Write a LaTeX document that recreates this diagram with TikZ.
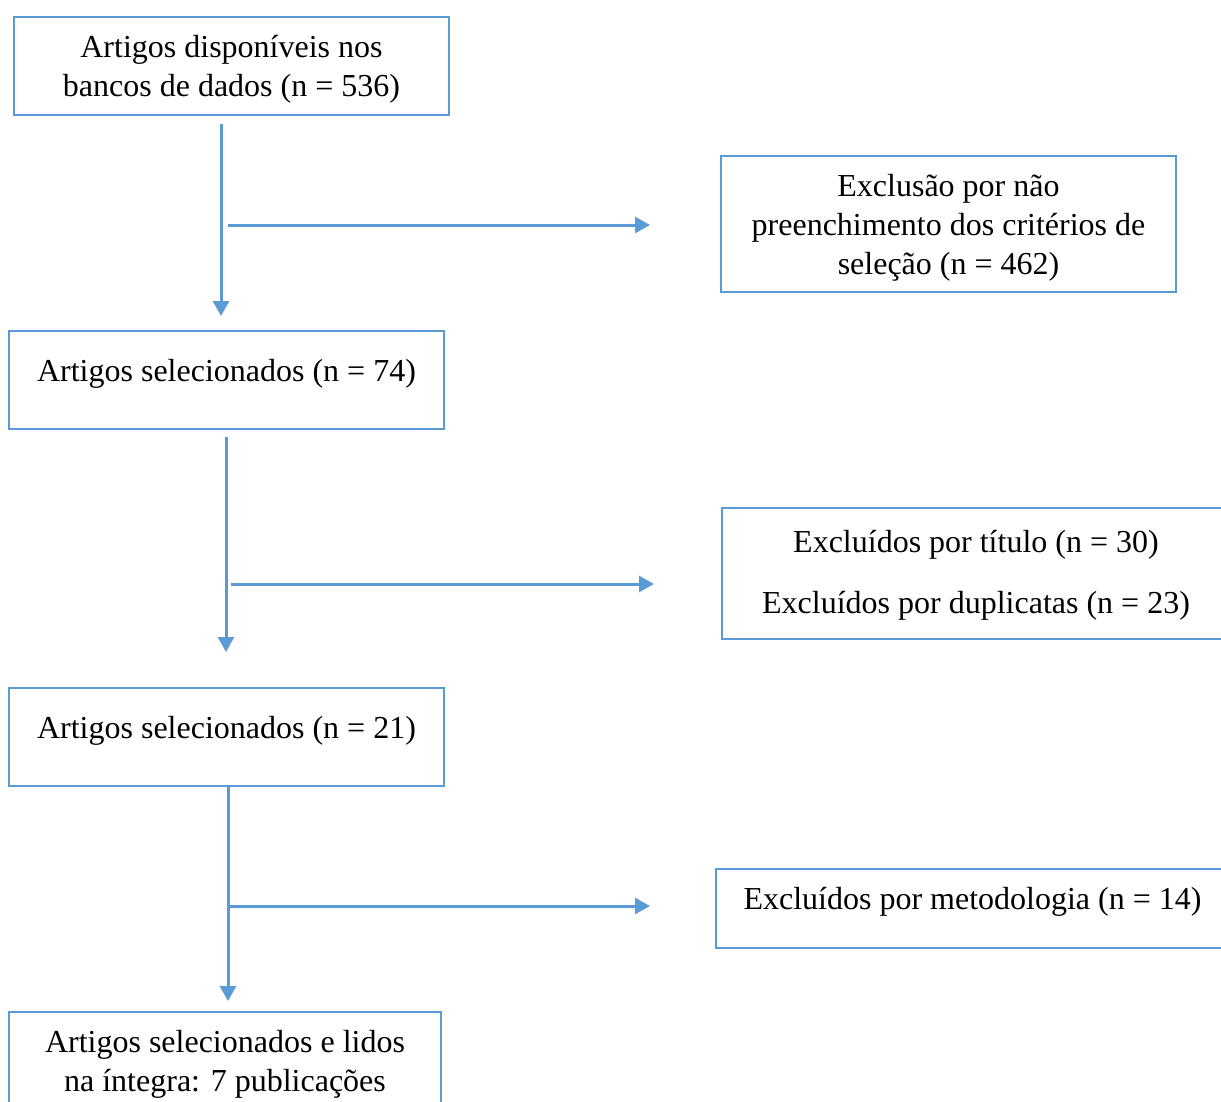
\documentclass[tikz,border=0pt]{standalone}
\usepackage{fontspec}
\setmainfont{Liberation Serif}
\usetikzlibrary{arrows.meta}
\definecolor{flowblue}{HTML}{5B9BD5}
\tikzset{
  box/.style={draw=flowblue,line width=1.3pt,rectangle,align=center,inner sep=0pt,
    font=\fontsize{16}{19.5}\selectfont},
  lowered/.style={text depth=#1},
  lowered/.default=-0.5pt,
  lifted/.style={text height=10.8pt,text depth=9.8pt},
  flow/.style={draw=flowblue,line width=1.5pt,-{Triangle[length=7.5pt,width=8pt]}}
}
\begin{document}
\begin{tikzpicture}[x=0.5pt,y=-0.5pt]
      \useasboundingbox (0,0) rectangle (1221,1102);
      \clip (0,0) rectangle (1221,1102);
      % left column
      \node[box,lowered,minimum width=217.5pt,minimum height=49pt] (b1) at (231.5,66)
        {Artigos disponíveis nos\\bancos de dados (n = 536)};
      \node[box,lifted,minimum width=217.5pt,minimum height=49pt] (b2) at (226.5,380)
        {Artigos selecionados (n = 74)};
      \node[box,lifted,minimum width=217.5pt,minimum height=49pt] (b3) at (226.5,737)
        {Artigos selecionados (n = 21)};
      \node[box,lowered=-2pt,minimum width=216pt,minimum height=49pt] (b4) at (225,1061)
        {Artigos selecionados e lidos\\na íntegra: 7 publicações};
      % right column
      \node[box,lowered=-2pt,minimum width=227.5pt,minimum height=68pt] (r1) at (948.5,224)
        {Exclusão por não\\preenchimento dos critérios de\\seleção (n = 462)};
      \node[box,lowered=1.5pt,minimum width=254pt,minimum height=65.5pt] (r2) at (976,573.5)
        {Excluídos por título (n = 30)\\[11pt]Excluídos por duplicatas (n = 23)};
      \node[box,lifted,minimum width=256.5pt,minimum height=39.5pt] (r3) at (972.5,908.5)
        {Excluídos por metodologia (n = 14)};
      % free ends of the arrows
      \coordinate (v1a) at (221,124);  \coordinate (v1b) at (221,316);
      \coordinate (h1a) at (228,225);  \coordinate (h1b) at (650,225);
      \coordinate (v2a) at (226,437);  \coordinate (v2b) at (226,652);
      \coordinate (h2a) at (231,584);  \coordinate (h2b) at (654,584);
      \coordinate (v3a) at (228,786);  \coordinate (v3b) at (228,1001);
      \coordinate (h3a) at (229,906);  \coordinate (h3b) at (650,906);
      \draw[flow] (v1a) -- (v1b);
      \draw[flow] (h1a) -- (h1b);
      \draw[flow] (v2a) -- (v2b);
      \draw[flow] (h2a) -- (h2b);
      \draw[flow] (v3a) -- (v3b);
      \draw[flow] (h3a) -- (h3b);
\end{tikzpicture}
\end{document}
